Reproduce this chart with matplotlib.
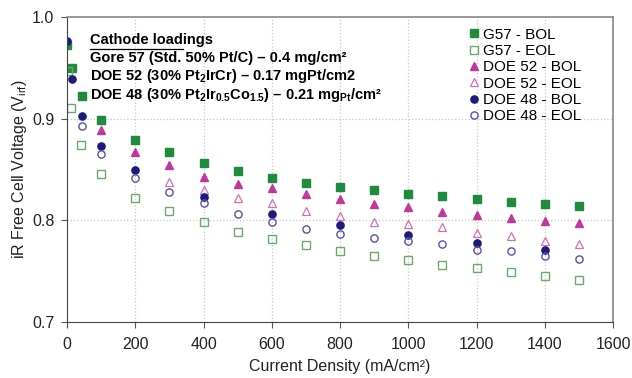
import numpy as np
import matplotlib
matplotlib.use('Agg')
import matplotlib.pyplot as plt

plt.rcParams['font.family'] = ['Liberation Sans', 'DejaVu Sans']
plt.rcParams['mathtext.fontset'] = 'custom'
plt.rcParams['mathtext.rm'] = 'Liberation Sans'
plt.rcParams['mathtext.bf'] = 'Liberation Sans:bold'
plt.rcParams['mathtext.default'] = 'bf'

# current density (mA/cm2) and iR-free voltage (V) per series
steps = [100, 200, 300, 400, 500, 600, 700, 800, 900, 1000, 1100, 1200, 1300, 1400, 1500]

g57_bol_x = [0, 15, 45] + steps
g57_bol_y = [0.972, 0.950, 0.922, 0.899, 0.879, 0.867, 0.856, 0.849, 0.842, 0.837,
             0.833, 0.830, 0.826, 0.824, 0.821, 0.818, 0.816, 0.814]

g57_eol_x = [3, 12, 42] + steps
g57_eol_y = [0.947, 0.911, 0.874, 0.846, 0.822, 0.809, 0.798, 0.789, 0.782, 0.776,
             0.770, 0.765, 0.761, 0.756, 0.753, 0.749, 0.745, 0.741]

doe52_bol_x = steps
doe52_bol_y = [0.889, 0.867, 0.854, 0.843, 0.836, 0.832, 0.826, 0.821, 0.816,
               0.813, 0.808, 0.805, 0.802, 0.799, 0.797]

doe52_eol_x = steps[2:]
doe52_eol_y = [0.838, 0.830, 0.822, 0.817, 0.809, 0.804, 0.798, 0.796, 0.793,
               0.788, 0.785, 0.780, 0.777]

doe48_bol_x = [0, 15, 45, 100, 200, 400, 600, 800, 1000, 1200, 1400]
doe48_bol_y = [0.976, 0.939, 0.903, 0.873, 0.850, 0.823, 0.806, 0.795, 0.786, 0.778, 0.771]

doe48_eol_x = [45] + steps
doe48_eol_y = [0.893, 0.865, 0.842, 0.828, 0.817, 0.806, 0.798, 0.792, 0.787, 0.783,
               0.780, 0.777, 0.771, 0.770, 0.765, 0.762]

fig = plt.figure(figsize=(6.32, 3.78), dpi=100)
axe = fig.add_axes([0.106, 0.148, 0.864, 0.807])

axe.plot(g57_bol_x, g57_bol_y, 's', color='#1e8c3c', ms=5.8, mec='#1e8c3c', label='G57 - BOL')
axe.plot(g57_eol_x, g57_eol_y, 's', color='#6aaa6a', ms=5.8, mfc='none', mew=1.0, label='G57 - EOL')
axe.plot(doe52_bol_x, doe52_bol_y, '^', color='#c0399a', ms=5.5, label='DOE 52 - BOL')
axe.plot(doe52_eol_x, doe52_eol_y, '^', color='#d070b8', ms=5.5, mfc='none', mew=0.9, label='DOE 52 - EOL')
axe.plot(doe48_bol_x, doe48_bol_y, 'o', color='#1c1c78', ms=5.2, label='DOE 48 - BOL')
axe.plot(doe48_eol_x, doe48_eol_y, 'o', color='#5a50a8', ms=5.2, mfc='none', mew=1.0, label='DOE 48 - EOL')

axe.set_xlim([0, 1600])
axe.set_ylim([0.7, 1.0])
axe.set_xticks(np.arange(0, 1601, 200))
axe.set_yticks([0.7, 0.8, 0.9, 1.0])
axe.set_yticklabels(['0.7', '0.8', '0.9', '1.0'])
axe.tick_params(direction='out', length=4, labelsize=11.5, color='#555555', labelcolor='#222222')
axe.tick_params(axis='x', pad=7)
axe.tick_params(axis='y', pad=5)
for x in range(200, 1600, 200):
    axe.axvline(x, color='#c8c8c8', ls=':', lw=0.9, zorder=0)
for y in [0.8, 0.9]:
    axe.axhline(y, color='#c8c8c8', ls=':', lw=0.9, zorder=0)

for s in ['left', 'bottom']:
    axe.spines[s].set_color('#444444')
for s in ['right', 'top']:
    axe.spines[s].set_color('#888888')
    axe.spines[s].set_linewidth(1.2)

axe.set_xlabel('Current Density (mA/cm²)', fontsize=11.5, color='#222222', labelpad=5)
axe.set_ylabel(r'iR Free Cell Voltage (V$_{\mathrm{irf}}$)', fontsize=11.5, color='#222222', labelpad=2)

axe.text(0.043, 0.925, 'Cathode loadings', transform=axe.transAxes, fontsize=10.5,
         fontweight='bold', va='center', ha='left')
axe.plot([0.043, 0.213], [0.895, 0.895], transform=axe.transAxes, color='black', lw=0.9)
lines = ['Gore 57 (Std. 50% Pt/C) – 0.4 mg/cm²',
         r'DOE 52 (30% Pt$_2$IrCr) – 0.17 mgPt/cm2',
         r'DOE 48 (30% Pt$_2$Ir$_{0.5}$Co$_{1.5}$) – 0.21 mg$_{Pt}$/cm²']
for i, t in enumerate(lines):
    axe.text(0.043, 0.865 - i * 0.06, t, transform=axe.transAxes, fontsize=10.5,
             fontweight='bold', va='center', ha='left')

axe.legend(loc='upper left', bbox_to_anchor=(0.712, 1.0), frameon=False, fontsize=11,
           handletextpad=0.05, labelspacing=0.15, handlelength=1.0, borderpad=0.2)

fig.savefig('out.png', dpi=100)
